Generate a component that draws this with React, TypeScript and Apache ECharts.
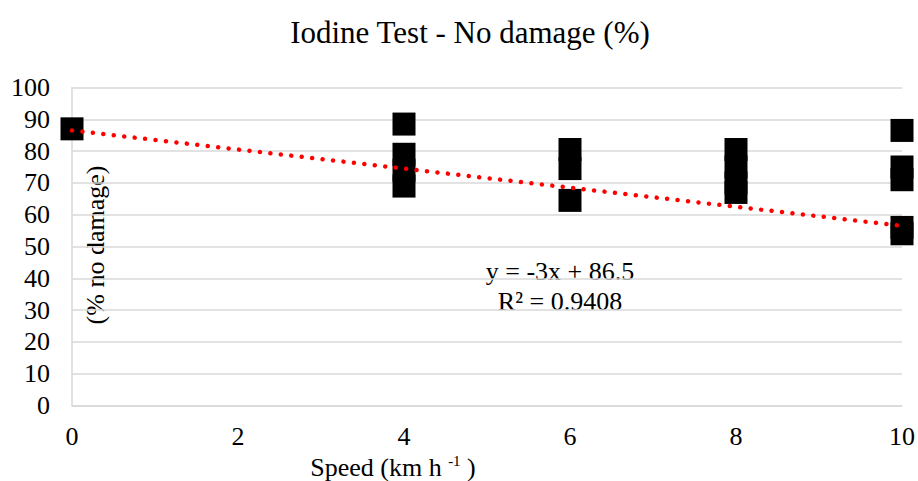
import React, { useEffect, useRef } from "react";
import * as echarts from "echarts";

const titleText = "Iodine Test - No damage (%)";
const yAxisName = "(% no damage)";
const equationLine = "y = -3x + 86.5";
const r2Line = "R² = 0.9408";

const speedX = [0, 4, 4, 4, 4, 6, 6, 6, 8, 8, 8, 8, 10, 10, 10, 10, 10];
const noDamageY = [87, 88.5, 79, 74, 69, 80.5, 74.5, 64.5, 80.5, 75, 70, 67, 86.5, 75, 71, 56, 54];
const trendX = [0, 10];
const trendY = [86.5, 56.5];

const FONT = "Liberation Serif, Times New Roman, serif";

export default function App() {
  const ref = useRef<HTMLDivElement>(null);
  useEffect(() => {
    if (!ref.current) return;
    const chart = echarts.init(ref.current, null, { renderer: "svg" });
    const points = speedX.map((x, i) => [x, noDamageY[i]]);
    const trend = trendX.map((x, i) => [x, trendY[i]]);
    chart.setOption({
      animation: false,
      backgroundColor: "#ffffff",
      textStyle: { fontFamily: FONT },
      title: {
        text: titleText,
        left: 465,
        textAlign: "center",
        top: 12,
        textStyle: { fontFamily: FONT, fontSize: 31, fontWeight: "normal", color: "#000" },
      },
      grid: { left: 72, right: 16, top: 87.5, bottom: 75.5, containLabel: false },
      xAxis: {
        type: "value",
        min: 0,
        max: 10,
        interval: 2,
        axisLine: { show: true, lineStyle: { color: "#d9d9d9", width: 1.5 } },
        axisTick: { show: false },
        splitLine: { show: false },
        axisLabel: { fontFamily: FONT, fontSize: 26, color: "#000", margin: 18 },
      },
      yAxis: {
        type: "value",
        min: 0,
        max: 100,
        interval: 10,
        axisLine: { show: true, lineStyle: { color: "#d9d9d9", width: 1.5 } },
        axisTick: { show: false },
        splitLine: { show: true, lineStyle: { color: "#d9d9d9", width: 1.5 } },
        axisLabel: { fontFamily: FONT, fontSize: 26, color: "#000", margin: 22 },
      },
      series: [
        {
          type: "scatter",
          data: points,
          symbol: "rect",
          symbolSize: 23,
          itemStyle: { color: "#000", opacity: 1 },
          clip: false,
          z: 2,
        },
        {
          type: "line",
          data: trend,
          showSymbol: false,
          symbol: "none",
          lineStyle: { color: "#ff0000", width: 4.5, type: [0.01, 10.5], cap: "round" },
          z: 3,
        },
      ],
      graphic: [
        {
          type: "text",
          x: 95.5,
          y: 245,
          rotation: Math.PI / 2,
          style: { text: yAxisName, fontFamily: FONT, fontSize: 26, fill: "#000", textAlign: "center", textVerticalAlign: "middle" },
        },
        {
          type: "text",
          x: 560,
          y: 271,
          style: { text: equationLine, fontFamily: FONT, fontSize: 26, fill: "#000", textAlign: "center", textVerticalAlign: "middle" },
        },
        {
          type: "text",
          x: 560,
          y: 301,
          style: { text: r2Line, fontFamily: FONT, fontSize: 26, fill: "#000", textAlign: "center", textVerticalAlign: "middle" },
        },
        {
          type: "text",
          x: 393,
          y: 467,
          style: {
            text: "{a|Speed (km h }{b|-1}{a| )}",
            textAlign: "center",
            textVerticalAlign: "middle",
            rich: {
              a: { fontFamily: FONT, fontSize: 26, color: "#000" },
              b: { fontFamily: FONT, fontSize: 15, color: "#000", verticalAlign: "top", padding: [0, 0, 12, 0] },
            },
          },
        },
      ],
    });
    return () => chart.dispose();
  }, []);
  return <div ref={ref} style={{ position: "absolute", left: 0, top: 0, width: 918, height: 481 }} />;
}
